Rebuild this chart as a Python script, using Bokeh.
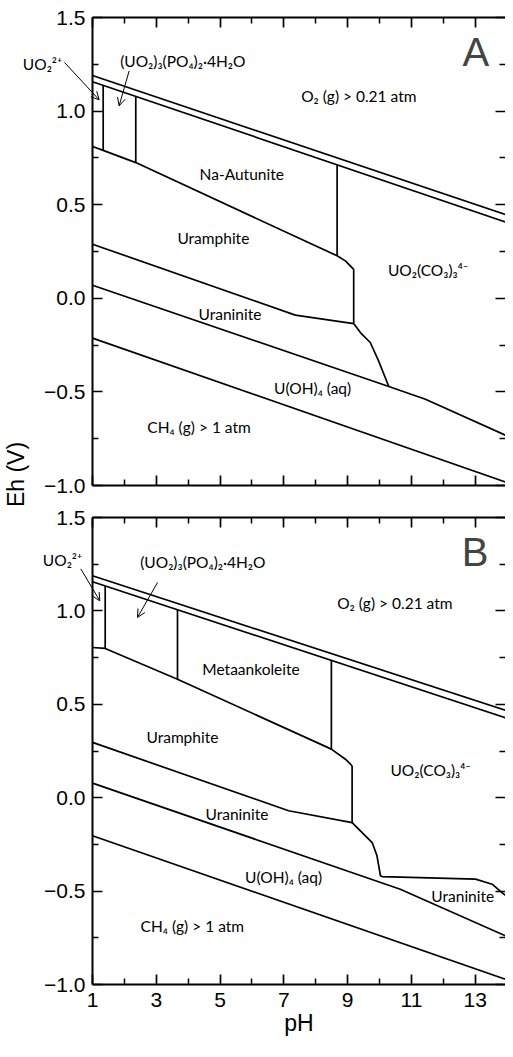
import numpy as np
from bokeh.plotting import figure
from bokeh.models import (Range1d, LinearAxis, FixedTicker, CustomJSTickFormatter,
                          Label, Arrow, OpenHead)
from bokeh.layouts import row, column
from bokeh.embed import file_html
from bokeh.resources import INLINE
from bokeh.core.properties import value

# ---------------- axes ----------------
X_TICKS = [1, 3, 5, 7, 9, 11, 13]
X_MINOR = [2, 4, 6, 8, 10, 12, 14]
Y_TICKS = [-1.0, -0.5, 0.0, 0.5, 1.0, 1.5]
Y_MINOR = [-0.75, -0.25, 0.25, 0.75, 1.25]

# ---------------- panel A data (pH, Eh / V) ----------------
A_O2_PH = [1.0, 14.0]
A_O2_HIGH_EH = [1.190, 0.445]
A_O2_LOW_EH = [1.157, 0.405]
A_FLOOR_PH = [1.0, 1.335, 2.357, 8.67, 8.93, 9.19]
A_FLOOR_EH = [0.811, 0.790, 0.725, 0.227, 0.200, 0.155]
A_DIVIDER_PH = [1.335, 2.357, 8.67]
A_CARB_PH = [9.19, 9.19, 9.40, 9.71, 9.97, 10.29]
A_CARB_EH = [0.155, -0.135, -0.183, -0.236, -0.334, -0.471]
A_URAMPH_PH = [1.0, 7.36, 9.19]
A_URAMPH_EH = [0.289, -0.090, -0.135]
A_URAN_PH = [1.0, 10.29, 11.44, 14.0]
A_URAN_EH = [0.070, -0.471, -0.539, -0.735]
A_CH4_PH = [1.0, 14.0]
A_CH4_EH = [-0.213, -0.984]

# ---------------- panel B data (pH, Eh / V) ----------------
B_O2_PH = [1.0, 14.0]
B_O2_HIGH_EH = [1.188, 0.465]
B_O2_LOW_EH = [1.156, 0.425]
B_FLOOR_PH = [1.0, 1.398, 3.665, 8.49, 8.93, 9.14]
B_FLOOR_EH = [0.804, 0.799, 0.634, 0.260, 0.206, 0.171]
B_DIVIDER_PH = [1.398, 3.665, 8.49]
B_CARB_PH = [9.14, 9.14, 9.77, 9.92, 10.03, 10.08, 13.01, 13.53, 13.84, 14.0]
B_CARB_EH = [0.171, -0.133, -0.240, -0.311, -0.418, -0.422, -0.436, -0.463, -0.508, -0.53]
B_URAMPH_PH = [1.0, 7.15, 9.14]
B_URAMPH_EH = [0.296, -0.070, -0.133]
B_URAN_PH = [1.0, 10.65, 14.0]
B_URAN_EH = [0.078, -0.490, -0.743]
B_CH4_PH = [1.0, 14.0]
B_CH4_EH = [-0.204, -0.975]

# ---------------- text ----------------
A_LABELS = [
    ("(UO\u2082)\u2083(PO\u2084)\u2082\u00b74H\u2082O", 3.83, 1.265),
    ("O\u2082 (g) > 0.21 atm", 9.35, 1.078),
    ("Na-Autunite", 5.68, 0.664),
    ("Uramphite", 4.79, 0.322),
    ("UO\u2082(CO\u2083)\u2083\u2074\u207b", 11.52, 0.149),
    ("Uraninite", 5.31, -0.084),
    ("U(OH)\u2084 (aq)", 7.90, -0.477),
    ("CH\u2084 (g) > 1 atm", 4.34, -0.688),
]
B_LABELS = [
    ("(UO\u2082)\u2083(PO\u2084)\u2082\u00b74H\u2082O", 4.46, 1.264),
    ("O\u2082 (g) > 0.21 atm", 10.48, 1.042),
    ("Metaankoleite", 5.97, 0.689),
    ("Uramphite", 3.82, 0.325),
    ("UO\u2082(CO\u2083)\u2083\u2074\u207b", 11.60, 0.146),
    ("Uraninite", 5.53, -0.087),
    ("U(OH)\u2084 (aq)", 6.99, -0.427),
    ("Uraninite", 12.61, -0.526),
    ("CH\u2084 (g) > 1 atm", 4.13, -0.687),
]
UO2_TEXT = "UO\u2082\u00b2\u207a"
# (label pH, label Eh, arrow tail pH, Eh, arrow head pH, Eh) for the UO2 2+ callouts
A_UO2_CALLOUT = (-0.567, 1.252, 0.122, 1.26, 1.21, 1.06)
B_UO2_CALLOUT = (0.06, 1.275, 0.633, 1.225, 1.229, 1.054)

# ---------------- geometry ----------------
X_END = 13.95
W_FIG = 465
H_A = 501
H_B = 540
H_TOTAL = H_A + H_B
LABEL_W = 110
OVERLAP = 70            # the plots lie over the right part of the label strip
PAGE_PAD = 8
FRAME_LEFT = PAGE_PAD + LABEL_W - OVERLAP + 52
FRAME_RIGHT = PAGE_PAD + LABEL_W - OVERLAP + W_FIG
A_TOP, A_BOT = PAGE_PAD + 17, PAGE_PAD + H_A - 16
B_TOP, B_BOT = PAGE_PAD + H_A + 16, PAGE_PAD + H_TOTAL - 57

ANN_FONT = "Lato"
AX_FONT = "Liberation Sans"
LW = 1.7


def style_axis(ax, ticks, minor, show_labels, show_line=True):
    ax.ticker = FixedTicker(ticks=ticks, minor_ticks=minor)
    ax.axis_line_width = 2
    ax.axis_line_color = "black"
    ax.axis_line_alpha = 1.0 if show_line else 0.0
    ax.major_tick_in = 10
    ax.major_tick_out = 0
    ax.minor_tick_in = 6
    ax.minor_tick_out = 0
    ax.major_tick_line_width = 1.7
    ax.minor_tick_line_width = 1.5
    ax.major_tick_line_color = "black"
    ax.minor_tick_line_color = "black"
    if show_labels:
        ax.major_label_text_font = AX_FONT
        ax.major_label_text_font_size = "21px"
        ax.major_label_text_color = "black"
    else:
        ax.formatter = CustomJSTickFormatter(code="return '';")
        ax.major_label_text_font_size = "1px"
        ax.major_label_standoff = 0


def make_panel(height, top_b, bottom_b, show_x):
    p = figure(width=W_FIG, height=height, x_range=Range1d(1, X_END),
               y_range=Range1d(-1.0, 1.5), output_backend="svg",
               toolbar_location=None, x_axis_location=None, y_axis_location=None,
               min_border_left=52, min_border_right=0,
               min_border_top=top_b, min_border_bottom=bottom_b)
    p.outline_line_color = None
    p.xgrid.visible = False
    p.ygrid.visible = False
    p.background_fill_alpha = 0
    p.border_fill_alpha = 0

    left = LinearAxis()
    style_axis(left, Y_TICKS, Y_MINOR, True)
    left.major_label_standoff = 7
    left.formatter = CustomJSTickFormatter(
        code="return (tick < -1e-9 ? '\\u2212' : '') + Math.abs(tick).toFixed(1);")
    p.add_layout(left, "left")

    right = LinearAxis()
    style_axis(right, Y_TICKS, Y_MINOR, False, show_line=False)
    p.add_layout(right, "right")

    top = LinearAxis()
    style_axis(top, X_TICKS, X_MINOR, False)
    p.add_layout(top, "above")

    bottom = LinearAxis()
    style_axis(bottom, X_TICKS, X_MINOR, show_x)
    if show_x:
        bottom.major_label_standoff = 8
        bottom.axis_label = "pH"
        bottom.axis_label_standoff = 0
        bottom.axis_label_text_font = AX_FONT
        bottom.axis_label_text_font_size = "23px"
        bottom.axis_label_text_font_style = "normal"
        bottom.axis_label_text_color = "black"
    p.add_layout(bottom, "below")
    return p


def draw_panel(p, o2_ph, o2_hi, o2_lo, floor_ph, floor_eh, div_ph,
               carb_ph, carb_eh, uramph_ph, uramph_eh, uran_ph, uran_eh,
               ch4_ph, ch4_eh):
    kw = dict(line_color="black", line_width=LW)
    p.line(o2_ph, o2_hi, **kw)
    p.line(o2_ph, o2_lo, **kw)
    p.line(floor_ph, floor_eh, **kw)
    tops = np.interp(div_ph, o2_ph, o2_lo)
    bots = np.interp(div_ph, floor_ph, floor_eh)
    p.multi_line([[x, x] for x in div_ph], [[t, b] for t, b in zip(tops, bots)], **kw)
    p.line(carb_ph, carb_eh, **kw)
    p.line(uramph_ph, uramph_eh, **kw)
    p.line(uran_ph, uran_eh, **kw)
    p.line(ch4_ph, ch4_eh, **kw)


def add_labels(p, labels):
    for txt, x, y in labels:
        p.add_layout(Label(x=x, y=y, text=txt, text_font=ANN_FONT,
                           text_font_size="15.5px", text_align="center",
                           text_baseline="middle", text_color="black"))


pA = make_panel(H_A, 17, 16, False)
draw_panel(pA, A_O2_PH, A_O2_HIGH_EH, A_O2_LOW_EH, A_FLOOR_PH, A_FLOOR_EH,
           A_DIVIDER_PH, A_CARB_PH, A_CARB_EH, A_URAMPH_PH, A_URAMPH_EH,
           A_URAN_PH, A_URAN_EH, A_CH4_PH, A_CH4_EH)
add_labels(pA, A_LABELS)
pA.add_layout(Label(x=13.02, y=1.318, text="A", text_font=AX_FONT, text_font_size="40px",
                    text_align="center", text_baseline="middle"))
pA.add_layout(Arrow(x_start=2.15, y_start=1.215, x_end=1.834, y_end=1.028, line_width=1,
                    end=OpenHead(size=8, line_width=1)))

pB = make_panel(H_B, 16, 57, True)
draw_panel(pB, B_O2_PH, B_O2_HIGH_EH, B_O2_LOW_EH, B_FLOOR_PH, B_FLOOR_EH,
           B_DIVIDER_PH, B_CARB_PH, B_CARB_EH, B_URAMPH_PH, B_URAMPH_EH,
           B_URAN_PH, B_URAN_EH, B_CH4_PH, B_CH4_EH)
add_labels(pB, B_LABELS)
pB.add_layout(Label(x=13.0, y=1.315, text="B", text_font=AX_FONT, text_font_size="40px",
                    text_align="center", text_baseline="middle"))
pB.add_layout(Arrow(x_start=3.04, y_start=1.152, x_end=2.41, y_end=0.965, line_width=1,
                    end=OpenHead(size=8, line_width=1)))

# ---------- label strip (lies under the left border of both panels) ----------
def to_strip(ph, eh, top, bot):
    px = FRAME_LEFT + (ph - 1.0) * (FRAME_RIGHT - FRAME_LEFT) / (X_END - 1.0)
    py = top + (1.5 - eh) * (bot - top) / 2.5
    return px - PAGE_PAD, (PAGE_PAD + H_TOTAL) - py


lab = figure(width=LABEL_W, height=H_TOTAL, x_range=Range1d(0, LABEL_W),
             y_range=Range1d(0, H_TOTAL), output_backend="svg", toolbar_location=None,
             x_axis_location=None, y_axis_location=None, min_border=0)
lab.outline_line_color = None
lab.xgrid.visible = False
lab.ygrid.visible = False
lab.margin = (0, -OVERLAP, 0, 0)
lab.text(x=[15], y=[(PAGE_PAD + H_TOTAL) - 482], text=["Eh (V)"], angle=np.pi / 2,
         text_align="center", text_baseline="middle",
         text_font=value(AX_FONT), text_font_size="23px", text_color="black")
for call, top, bot in [(A_UO2_CALLOUT, A_TOP, A_BOT), (B_UO2_CALLOUT, B_TOP, B_BOT)]:
    lx, ly = to_strip(call[0], call[1], top, bot)
    tx, ty = to_strip(call[2], call[3], top, bot)
    hx, hy = to_strip(call[4], call[5], top, bot)
    lab.text(x=[lx], y=[ly], text=[UO2_TEXT], text_align="center", text_baseline="middle",
             text_font=value(ANN_FONT), text_font_size="15.5px", text_color="black")
    lab.add_layout(Arrow(x_start=tx, y_start=ty, x_end=hx, y_end=hy, line_width=1,
                         end=OpenHead(size=8, line_width=1)))

layout = row(lab, column(pA, pB))
open("out.html", "w").write(file_html(layout, INLINE))
